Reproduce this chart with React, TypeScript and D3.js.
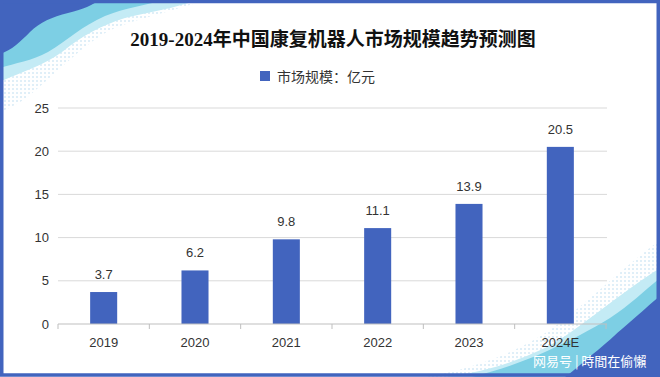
import React from "react";
import * as d3 from "d3";

const categories = ["2019", "2020", "2021", "2022", "2023", "2024E"];
const marketSize = [3.7, 6.2, 9.8, 11.1, 13.9, 20.5];
const yTicks = [0, 5, 10, 15, 20, 25];
const title = "2019-2024年中国康复机器人市场规模趋势预测图";
const legendLabel = "市场规模：亿元";
const watermark = "网易号 | 時間在偷懶";

const W = 660;
const H = 377;
const BLUE = "#4264BE";
const CYAN = "#7dcfe4";
const LIGHT = "#c4ebf5";

export default function App() {
  const x = d3.scaleBand<string>().domain(categories).range([58, 606]).padding(0);
  const y = d3.scaleLinear().domain([0, 25]).range([324, 108]);
  const barW = x.bandwidth() * 0.296;
  const sans = "'Liberation Sans', Arial, 'Noto Sans CJK SC', sans-serif";

  return (
    <svg
      width={W}
      height={H}
      style={{ position: "absolute", left: 0, top: 0, display: "block" }}
    >
      <defs>
        <pattern id="dots" width="4" height="4" patternUnits="userSpaceOnUse">
          <rect width="4" height="4" fill="#ffffff" />
          <circle cx="1" cy="1" r="0.8" fill="#b9dcef" />
        </pattern>
      </defs>
      <rect x={0} y={0} width={W} height={H} fill="#ffffff" />

      {/* top-left decoration */}
      <path d="M0,0 H205 C170,12 140,18 115,28 C85,42 60,70 30,95 C20,103 10,108 0,112 Z" fill="url(#dots)" />
      <path d="M0,0 H198 C175,8 150,12 125,18 C100,26 82,36 62,52 C42,66 22,72 4,80 L0,80 Z" fill={LIGHT} />
      <path d="M0,0 H165 C145,5 125,8 105,16 C82,26 68,40 48,52 C32,61 15,63 0,68 Z" fill={CYAN} />
      <path d="M0,0 H100 C92,5 84,9 68,13 C52,17 40,22 30,32 C20,42 12,50 0,54 Z" fill={BLUE} />

      {/* bottom-right decoration */}
      <path d="M660,377 H425 C480,368 520,350 550,330 C585,305 620,270 660,240 Z" fill="url(#dots)" />
      <path d="M660,377 H445 C485,372 515,362 545,348 C575,333 610,300 660,268 Z" fill={LIGHT} />
      <path d="M660,377 H472 C500,370 522,362 545,352 C572,340 590,330 610,318 C630,305 645,290 660,278 Z" fill={CYAN} />
      <path d="M660,377 H565 C575,370 585,360 598,350 C610,340 618,332 630,322 C642,312 650,304 660,296 Z" fill={BLUE} />

      {/* frame */}
      <rect x={1.75} y={1.5} width={W - 3.5} height={H - 3.5} fill="none" stroke={BLUE} strokeWidth={3.5} />

      {/* title */}
      <text
        x={333}
        y={46}
        textAnchor="middle"
        fontSize={19}
        fontWeight="bold"
        fill="#111"
        style={{ fontFamily: "'Liberation Serif', 'DejaVu Serif', 'Noto Sans CJK SC', serif" }}
      >
        {title}
      </text>

      {/* legend */}
      <rect x={260} y={71} width={10} height={10} fill={BLUE} />
      <text x={277} y={82} fontSize={14} fill="#333" style={{ fontFamily: sans }}>
        {legendLabel}
      </text>

      {/* gridlines */}
      {yTicks.filter((t) => t > 0).map((t) => (
        <line key={t} x1={58} x2={607} y1={y(t)} y2={y(t)} stroke="#d9d9d9" strokeWidth={1} />
      ))}

      {/* y labels */}
      {yTicks.map((t) => (
        <text
          key={t}
          x={49}
          y={y(t) + 4.5}
          textAnchor="end"
          fontSize={13}
          fill="#333"
          style={{ fontFamily: sans }}
        >
          {t}
        </text>
      ))}

      {/* bars */}
      {categories.map((c, i) => {
        const cx = (x(c) as number) + x.bandwidth() / 2;
        return (
          <g key={c}>
            <rect x={cx - barW / 2} y={y(marketSize[i])} width={barW} height={y(0) - y(marketSize[i])} fill={BLUE} />
            <text
              x={cx}
              y={y(marketSize[i]) - 13}
              textAnchor="middle"
              fontSize={13}
              fill="#333"
              style={{ fontFamily: sans }}
            >
              {marketSize[i].toFixed(1)}
            </text>
            <text x={cx} y={347} textAnchor="middle" fontSize={13} fill="#333" style={{ fontFamily: sans }}>
              {c}
            </text>
          </g>
        );
      })}

      {/* axis */}
      <line x1={58} x2={607} y1={y(0)} y2={y(0)} stroke="#bfbfbf" strokeWidth={1.2} />
      {d3.range(categories.length + 1).map((i) => {
        const tx = 58 + i * x.step();
        return <line key={i} x1={tx} x2={tx} y1={y(0)} y2={y(0) + 5} stroke="#bfbfbf" strokeWidth={1} />;
      })}

      {/* watermark */}
      <text x={533} y={366} fontSize={13} fill="#ffffff" style={{ fontFamily: "'Noto Sans CJK TC', 'Noto Sans CJK SC', sans-serif" }}>
        {watermark}
      </text>
    </svg>
  );
}
